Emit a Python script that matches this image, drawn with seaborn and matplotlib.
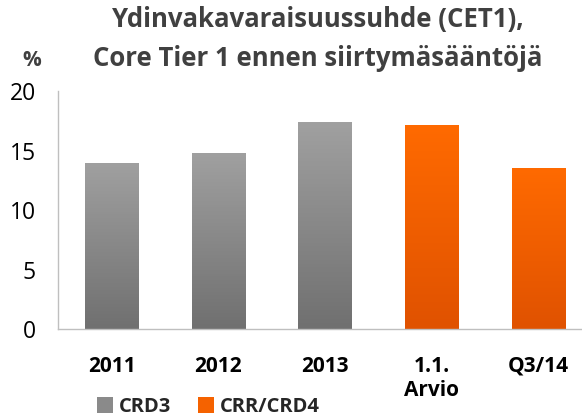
import numpy as np
import pandas as pd
import matplotlib
matplotlib.use("Agg")
import matplotlib.pyplot as plt
import seaborn as sns
from matplotlib.patches import Patch
from matplotlib.colors import LinearSegmentedColormap

categories = ["2011", "2012", "2013", "1.1.\nArvio", "Q3/14"]
values = [14.0, 14.85, 17.4, 17.2, 13.6]
series = ["CRD3", "CRD3", "CRD3", "CRR/CRD4", "CRR/CRD4"]
series_names = ["CRD3", "CRR/CRD4"]
series_colors = {"CRD3": "#8a8a8a", "CRR/CRD4": "#F56200"}
gradients = {"CRD3": ("#a0a0a0", "#707070"), "CRR/CRD4": ("#FF6A00", "#E05200")}
yticks = [0, 5, 10, 15, 20]

title_line1 = "Ydinvakavaraisuussuhde (CET1),"
title_line2 = "Core Tier 1 ennen siirtymäsääntöjä"

sns.set_style("white")
plt.rcParams['font.family'] = ['Open Sans', 'DejaVu Sans']

df = pd.DataFrame({"cat": categories, "val": values, "series": series})

fig = plt.figure(figsize=(5.82, 4.19), dpi=100)
ax = fig.add_axes([58.3/582, 1-329.3/419, (582-58.3)/582, (329.3-91.5)/419])

sns.barplot(data=df, x="cat", y="val", hue="series", palette=series_colors,
            dodge=False, width=0.5, ax=ax, legend=False, saturation=1)

# gradient overlay clipped to each bar
for patch, s in zip(ax.patches, series):
    x0, y0 = patch.get_x(), patch.get_y()
    w, h = patch.get_width(), patch.get_height()
    c1, c2 = gradients[s]
    cmap = LinearSegmentedColormap.from_list("g", [c2, c1])
    grad = np.linspace(0, 1, 100).reshape(-1, 1)
    im = ax.imshow(grad, extent=[x0, x0 + w, y0, y0 + h], origin="lower",
                   cmap=cmap, aspect="auto", zorder=patch.get_zorder() + 0.1)
    im.set_clip_path(patch)

ax.set_xlim(-0.5, 4.41)
ax.set_ylim(0, 20)
ax.set_yticks(yticks)
ax.set_yticklabels([str(t) for t in yticks], fontsize=16.5, color="#000000")
ax.set_xticks(range(len(categories)))
ax.set_xticklabels(categories, fontsize=15, fontweight="bold", color="#000000",
                   linespacing=1.2, va="top")
ax.tick_params(axis="x", length=0, pad=19)
ax.tick_params(axis="y", length=0, pad=16)
ax.set_xlabel("")
ax.set_ylabel("")
for sp in ["top", "right"]:
    ax.spines[sp].set_visible(False)
ax.spines["left"].set_color("#bfbfbf")
ax.spines["bottom"].set_color("#bfbfbf")
ax.spines["left"].set_linewidth(1)
ax.spines["bottom"].set_linewidth(1)

fig.text(32/582, 1-60/419, "%", fontsize=15, fontweight="bold", color="#404040",
         ha="center", va="center")
fig.text(318/582, 1-20/419, title_line1, fontsize=18.5, fontweight="bold",
         color="#404040", ha="center", va="center")
fig.text(318/582, 1-59/419, title_line2, fontsize=18.5, fontweight="bold",
         color="#404040", ha="center", va="center")

handles = [Patch(facecolor=series_colors[n], edgecolor="none") for n in series_names]
leg = fig.legend(handles, series_names, loc="center left",
                 bbox_to_anchor=(97/582, 1-407/419), ncol=2, frameon=False,
                 prop={"weight": "bold", "size": 14.5}, handlelength=0.8,
                 handleheight=0.8, handletextpad=0.3, columnspacing=1.3,
                 borderpad=0, borderaxespad=0)

fig.savefig("out.png", dpi=100)
